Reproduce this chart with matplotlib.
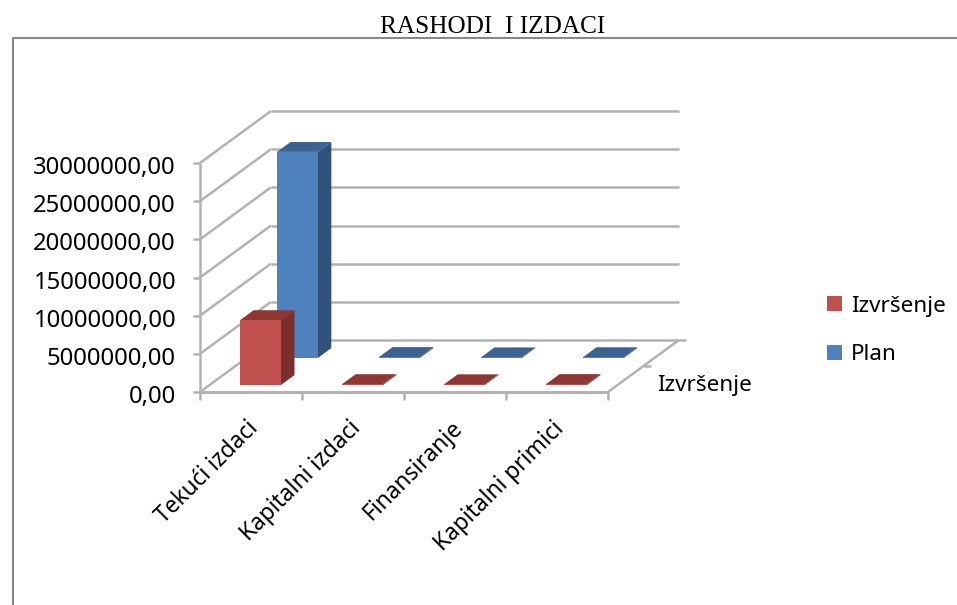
import matplotlib
matplotlib.use("Agg")
import matplotlib.pyplot as plt
from matplotlib.patches import Polygon, Patch

# ---- data ----
categories = ["Tekući izdaci", "Kapitalni izdaci", "Finansiranje", "Kapitalni primici"]
series_names = ["Izvršenje", "Plan"]
izvrsenje = [8500000, 120000, 100000, 130000]
plan = [27000000, 130000, 90000, 110000]
y_ticks = [0, 5000000, 10000000, 15000000, 20000000, 25000000, 30000000]
y_labels = ["0,00", "5000000,00", "10000000,00", "15000000,00", "20000000,00", "25000000,00", "30000000,00"]
title = "RASHODI  I IZDACI"
depth_label = "Izvršenje"

# ---- styles ----
FONT = "Noto Sans"
GRID = "#b2b2b2"
FACES = {
    "Izvršenje": ("#c0504d", "#8e3835", "#7b2f2d"),
    "Plan": ("#4f81bd", "#3b6290", "#30527b"),
}

# ---- oblique projection (category, value, depth) -> figure pixels ----
X0, Y0 = 200.0, 392.0
CAT_W = 102.0
PX_PER_UNIT = (392.0 - 163.0) / 30000000
DEPTH_DX, DEPTH_DY = 71.0, -52.0


def proj(c, v, d):
    return (X0 + c * CAT_W + d * DEPTH_DX, Y0 - v * PX_PER_UNIT + d * DEPTH_DY)


fig = plt.figure(figsize=(9.57, 6.05), dpi=100)
ax = fig.add_axes([0, 0, 1, 1])
ax.set_xlim(0, 957)
ax.set_ylim(605, 0)
ax.axis("off")


def line(p, q, color=GRID, lw=1.8, z=1):
    ax.plot([p[0], q[0]], [p[1], q[1]], color=color, lw=lw, zorder=z, solid_capstyle="butt")


# outer frame
ax.plot([12.5, 12.5, 957], [605, 38, 38], color="#888888", lw=1.5, zorder=1)

ncat = len(categories)
vmax = y_ticks[-1]

# gridlines on side and back walls
for v in y_ticks:
    line(proj(0, v, 0), proj(0, v, 1))
    line(proj(0, v, 1), proj(ncat, v, 1))

# floor and axes
line(proj(0, 0, 0), proj(ncat, 0, 0), lw=2.2)
line(proj(ncat, 0, 0), proj(ncat, 0, 1))
line(proj(0, 0, 0), proj(0, vmax, 0))

# ticks
for v, lab in zip(y_ticks, y_labels):
    px, py = proj(0, v, 0)
    line((px - 7, py), (px, py))
    ax.text(px - 24, py + 5, lab, ha="right", va="center", fontsize=17.2, family=FONT, color="black")
for c in range(ncat + 1):
    px, py = proj(c, 0, 0)
    line((px, py), (px, py + 8))
for d in (0.5, 1.0):
    px, py = proj(ncat, 0, d)
    line((px, py), (px + 7, py))

# category labels
for c, lab in enumerate(categories):
    px, py = proj(c + 0.5, 0, 0)
    ax.text(px + 4, py + 33, lab, rotation=45, rotation_mode="anchor", ha="right", va="center",
            fontsize=16.4, family=FONT, color="black")

ax.text(657, 386, depth_label, ha="left", va="center", fontsize=16.2, family=FONT, color="black")

# bars, back row first
BAR_W = 0.40
DEPTH_FRONT = {"Izvršenje": 0.135, "Plan": 0.654}
BAR_D = 0.19
for name, values in (("Plan", plan), ("Izvršenje", izvrsenje)):
    front, top, side = FACES[name]
    d0 = DEPTH_FRONT[name]
    d1 = d0 + BAR_D
    for c, v in enumerate(values):
        a = c + (1 - BAR_W) / 2
        b = a + BAR_W
        ax.add_patch(Polygon([proj(b, 0, d0), proj(b, 0, d1), proj(b, v, d1), proj(b, v, d0)],
                             closed=True, fc=side, ec="none", zorder=3))
        ax.add_patch(Polygon([proj(a, v, d0), proj(b, v, d0), proj(b, v, d1), proj(a, v, d1)],
                             closed=True, fc=top, ec="none", zorder=3))
        ax.add_patch(Polygon([proj(a, 0, d0), proj(b, 0, d0), proj(b, v, d0), proj(a, v, d0)],
                             closed=True, fc=front, ec="none", zorder=3))

# title
ax.text(493, 27, title, ha="center", va="center", fontsize=18.2, family="Liberation Serif", color="black")

# legend
handles = [Patch(fc=FACES[n][0], ec="none", label=n) for n in series_names]
ax.legend(handles=handles, loc="upper left", bbox_to_anchor=(820.5 / 957, 1 - 289 / 605), frameon=False,
          prop={"family": FONT, "size": 16.2}, handlelength=0.66, handleheight=0.66, handletextpad=0.4,
          labelspacing=1.22, borderpad=0.3, borderaxespad=0)

fig.savefig("out.png", dpi=100)
